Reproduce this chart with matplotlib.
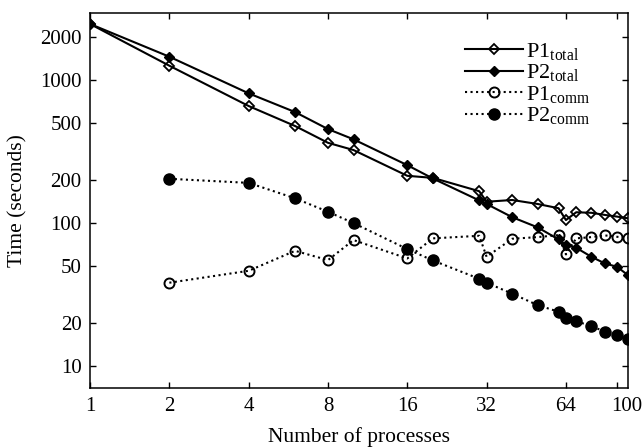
import matplotlib
matplotlib.use("Agg")
import matplotlib.pyplot as plt
from matplotlib.ticker import FixedLocator, FixedFormatter, NullLocator
import matplotlib.transforms as mtransforms

plt.rcParams['font.family'] = ['Liberation Serif', 'DejaVu Serif']
plt.rcParams['mathtext.fontset'] = 'custom'
plt.rcParams['mathtext.rm'] = 'Liberation Serif'
plt.rcParams['mathtext.it'] = 'Liberation Serif:italic'

# Number of processes
procs = [1, 2, 4, 6, 8, 10, 16, 20, 30, 32, 40, 50, 60, 64, 70, 80, 90, 100, 110]
procs_comm = procs[1:]

# Times in seconds
p1_total = [2465, 1259, 658, 477, 364, 324, 214, 207, 167, 141, 145, 136, 127, 105,
            119, 118, 114, 111, 108]
p2_total = [2465, 1455, 807, 597, 454, 385, 254, 205, 144, 136, 110, 93.3, 76.9, 70.2,
            67.2, 58.1, 52.2, 49.5, 43.3]
p1_comm = [38.3, 46.4, 64.0, 55.1, 76.1, 56.6, 78.2, 81.5, 58.1, 77.7, 79.8, 82.4, 60.4,
           78.2, 79.8, 82.0, 80.2, 79.0]
p2_comm = [204, 191, 149, 120, 100, 65.8, 54.8, 40.8, 38.3, 32.1, 26.7, 24.0, 21.8,
           20.6, 19.05, 17.4, 16.5, 15.4]

x_ticks = [1, 2, 4, 8, 16, 32, 64, 100]
x_tick_labels = ['1', '2', '4', '8', '16', '32', '64', '100']
y_ticks = [10, 20, 50, 100, 200, 500, 1000, 2000]
y_tick_labels = ['10', '20', '50', '100', '200', '500', '1000', '2000']

fig = plt.figure(figsize=(6.44, 4.47), dpi=100)
ax = fig.add_axes([0.1398, 0.1313, 0.975 - 0.1398, 0.9716 - 0.1313])

ax.plot(procs, p1_total, '-', color='black', lw=1.5, marker='D', ms=5.6,
        mfc='none', mec='black', mew=1.3, label=r'P1$_{\mathrm{total}}$')
ax.plot(procs, p2_total, '-', color='black', lw=1.5, marker='D', ms=5.6,
        mfc='black', mec='black', mew=1.0, label=r'P2$_{\mathrm{total}}$')
ax.plot(procs_comm, p1_comm, ':', color='black', lw=1.5, marker='o', ms=7.2,
        mfc='none', mec='black', mew=1.4, label=r'P1$_{\mathrm{comm}}$')
ax.plot(procs_comm, p2_comm, ':', color='black', lw=1.5, marker='o', ms=8.0,
        mfc='black', mec='black', mew=1.0, label=r'P2$_{\mathrm{comm}}$')

ax.set_xscale('log')
ax.set_yscale('log')
ax.set_xlim(1, 110)
ax.set_ylim(7, 2955)

ax.xaxis.set_major_locator(FixedLocator(x_ticks))
ax.xaxis.set_major_formatter(FixedFormatter(x_tick_labels))
ax.xaxis.set_minor_locator(NullLocator())
ax.yaxis.set_major_locator(FixedLocator(y_ticks))
ax.yaxis.set_major_formatter(FixedFormatter(y_tick_labels))
ax.yaxis.set_minor_locator(NullLocator())

ax.tick_params(which='both', direction='in', top=True, right=True,
               length=4, width=1.0, labelsize=15, pad=6)
for s in ax.spines.values():
    s.set_linewidth(1.1)

# nudge the last x label so it sits inside the figure edge
last = ax.get_xticklabels()[-1]
last.set_transform(last.get_transform() +
                   mtransforms.ScaledTranslation(10 / 100, 0, fig.dpi_scale_trans))

ax.set_xlabel('Number of processes', fontsize=15.5, labelpad=8)
ax.set_ylabel('Time (seconds)', fontsize=15.5, labelpad=9)

ax.legend(loc='upper right', bbox_to_anchor=(0.955, 0.96), frameon=False,
          fontsize=16, handlelength=2.6, handletextpad=0.15, labelspacing=0.02,
          borderaxespad=0.2)

fig.savefig('out.png', dpi=100)
